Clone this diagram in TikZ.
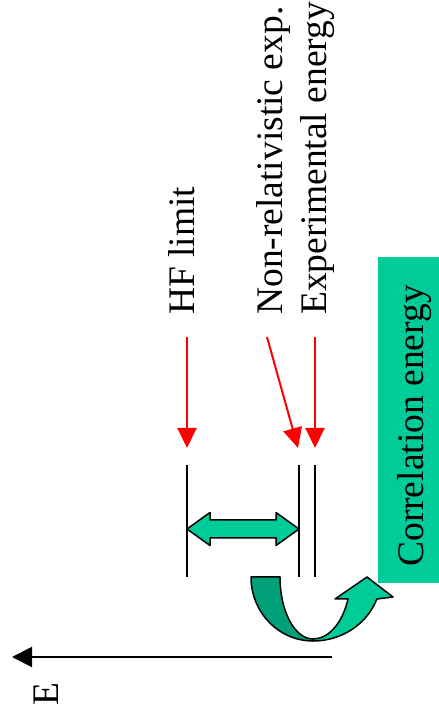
\documentclass[tikz,border=0pt]{standalone}
\usepackage{fontspec}
\setmainfont{Liberation Serif}
\usetikzlibrary{arrows.meta}
\definecolor{corrgreen}{RGB}{0,204,153}
\definecolor{backgreen}{RGB}{0,160,120}
\begin{document}
\begin{tikzpicture}[x=1pt,y=1pt,
  bigfont/.style={font=\fontsize{37.5}{41}\selectfont},
  vlabel/.style={rotate=90, anchor=base west, inner sep=0pt, bigfont},
  pointer/.style={red, line width=2pt, -{Triangle[width=19pt,length=20pt]}},
  level/.style={line width=1.8pt},
  outline/.style={draw=black, line width=1.5pt, line join=round}]
\useasboundingbox (0,0) rectangle (439,715);

% labels
\node[vlabel] (hf)  at (194,400) {HF limit};
\node[vlabel] (nre) at (282,400) {Non-relativistic exp.};
\node[vlabel] (exp) at (326,400) {Experimental energy};

% energy levels
\coordinate (hfTop)  at (187,250); \coordinate (hfBot)  at (187,138);
\coordinate (nreTop) at (299,250); \coordinate (nreBot) at (299,138);
\coordinate (expTop) at (315,250); \coordinate (expBot) at (315,138);
\draw[level] (hfTop) -- (hfBot);
\draw[level] (nreTop) -- (nreBot);
\draw[level] (expTop) -- (expBot);

% red pointers from labels to levels
\coordinate (hfFrom)  at (187,378); \coordinate (hfTo)  at (187,267);
\coordinate (nreFrom) at (267,378); \coordinate (nreTo) at (298,267);
\coordinate (expFrom) at (315,378); \coordinate (expTo) at (315,267);
\draw[pointer] (hfFrom) -- (hfTo);
\draw[pointer] (nreFrom) -- (nreTo);
\draw[pointer] (expFrom) -- (expTo);

% double-headed block arrow between HF and non-relativistic levels
\draw[outline, fill=corrgreen]
  (187,186) -- (210,202.5) -- (210,195) -- (276,195) -- (276,202.5)
  -- (299,186) -- (276,169.5) -- (276,177) -- (210,177) -- (210,169.5) -- cycle;

% curved U-turn arrow: dark back band, then light front band with head
\draw[outline, fill=backgreen]
  (251,138) arc[start angle=180, end angle=270, x radius=62, y radius=64]
  -- (313,76) arc[start angle=270, end angle=180, x radius=33, y radius=62]
  -- cycle;
\draw[outline, fill=corrgreen]
  (313,74) arc[start angle=270, end angle=339.9, x radius=68, y radius=64]
  -- (393,118) -- (367,138) -- (335,116) -- (348,116)
  arc[start angle=339.2, end angle=270, x radius=37.4, y radius=62]
  -- cycle;

% correlation energy box
\node[fill=corrgreen, minimum width=61pt, minimum height=326pt, inner sep=0pt]
  (corrbox) at (408.5,295) {};
\node[rotate=90, anchor=base, inner sep=0pt, bigfont]
  (corrtext) at (423,289) {Correlation energy};

% energy axis
\coordinate (axisStart) at (332,58);
\coordinate (axisEnd) at (12,58);
\draw[line width=2pt, -{Triangle[width=20pt,length=20pt]}] (axisStart) -- (axisEnd);
\node[rotate=90, anchor=base, inner sep=0pt, bigfont]
  (elabel) at (58,21) {E};
\end{tikzpicture}
\end{document}
